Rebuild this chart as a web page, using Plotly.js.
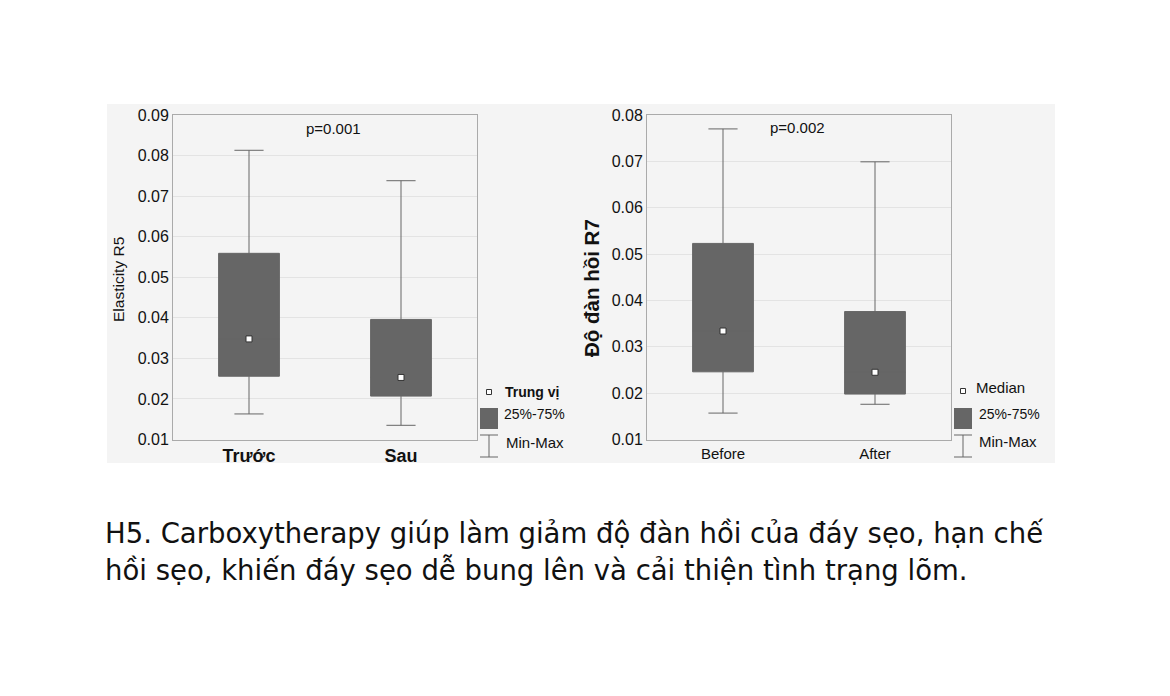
<!DOCTYPE html>
<html>
<head>
<meta charset="utf-8">
<script src="https://cdn.plot.ly/plotly-3.0.1.min.js"></script>
<style>
  body { margin: 0; background: #fff; }
  #plot { width: 1170px; height: 696px; }
</style>
</head>
<body>
<div id="plot"></div>
<script>
// Left chart: Elasticity R5
let groupsL = ["Trước", "Sau"];
let minL = [0.0163, 0.0135];
let q1L = [0.0256, 0.0207];
let medL = [0.0348, 0.0253];
let q3L = [0.0559, 0.0396];
let maxL = [0.0813, 0.0738];

// Right chart: Độ đàn hồi R7
let groupsR = ["Before", "After"];
let minR = [0.0157, 0.0176];
let q1R = [0.0246, 0.0198];
let medR = [0.0334, 0.0245];
let q3R = [0.0523, 0.0376];
let maxR = [0.0770, 0.0699];

let boxGrey = "#666666";
let chartFont = "Liberation Sans, Arial, sans-serif";

function boxTrace(x, lo, q1, med, q3, hi, xa, ya) {
  return {
    type: "box",
    x: x,
    lowerfence: lo,
    q1: q1,
    median: med,
    q3: q3,
    upperfence: hi,
    width: 0.4,
    whiskerwidth: 0.48,
    fillcolor: boxGrey,
    line: { color: boxGrey, width: 1 },
    hoverinfo: "skip",
    showlegend: false,
    xaxis: xa,
    yaxis: ya
  };
}

function medianTrace(x, med, xa, ya) {
  return {
    type: "scatter",
    mode: "markers",
    x: x,
    y: med,
    marker: { symbol: "square", size: 6, color: "#fff", line: { color: "#333", width: 1 } },
    hoverinfo: "skip",
    showlegend: false,
    xaxis: xa,
    yaxis: ya
  };
}

let data = [
  boxTrace(groupsL, minL, q1L, medL, q3L, maxL, "x", "y"),
  medianTrace(groupsL, medL, "x", "y"),
  boxTrace(groupsR, minR, q1R, medR, q3R, maxR, "x2", "y2"),
  medianTrace(groupsR, medR, "x2", "y2")
];

let yDomain = [1 - 439.5 / 696, 1 - 115 / 696];

function xAxis(domain, anchor, bold) {
  return {
    domain: domain,
    anchor: anchor,
    type: "category",
    range: [-0.5, 1.5],
    showgrid: false,
    showline: true,
    mirror: true,
    linecolor: "#aaaaaa",
    linewidth: 1,
    ticks: "",
    fixedrange: true,
    tickfont: { family: chartFont, size: bold ? 18 : 15, color: "#111", weight: bold ? 700 : 400 }
  };
}

function yAxis(anchor, top) {
  return {
    domain: yDomain,
    anchor: anchor,
    range: [0.01, top],
    dtick: 0.01,
    tick0: 0.01,
    tickformat: ".2f",
    showgrid: true,
    gridcolor: "#e3e3e3",
    zeroline: false,
    showline: true,
    mirror: true,
    linecolor: "#aaaaaa",
    linewidth: 1,
    ticks: "",
    fixedrange: true,
    tickfont: { family: chartFont, size: 16, color: "#111" }
  };
}

// helpers for paper coordinates in pixels
function px(v) { return v / 1170; }
function py(v) { return 1 - v / 696; }

let shapes = [
  // light grey panel behind both charts
  { type: "rect", xref: "paper", yref: "paper", x0: px(107), x1: px(1055), y0: py(463), y1: py(104),
    fillcolor: "#f4f4f4", line: { width: 0 }, layer: "below" }
];

function legendShapes(x0, x1) {
  let cx = (x0 + x1) / 2;
  return [
    { type: "rect", xref: "paper", yref: "paper", x0: px(x0), x1: px(x1), y0: py(429), y1: py(408),
      fillcolor: boxGrey, line: { width: 0 } },
    { type: "line", xref: "paper", yref: "paper", x0: px(cx), x1: px(cx), y0: py(435), y1: py(457),
      line: { color: "#666", width: 1 } },
    { type: "line", xref: "paper", yref: "paper", x0: px(x0), x1: px(x1), y0: py(435), y1: py(435),
      line: { color: "#666", width: 1 } },
    { type: "line", xref: "paper", yref: "paper", x0: px(x0), x1: px(x1), y0: py(457), y1: py(457),
      line: { color: "#666", width: 1 } },
    { type: "rect", xref: "paper", yref: "paper", x0: px(cx - 2.5), x1: px(cx + 2.5), y0: py(cx > 700 ? 393.5 : 394.5), y1: py(cx > 700 ? 388.5 : 389.5),
      fillcolor: "#fff", line: { color: "#333", width: 1 } }
  ];
}
shapes = shapes.concat(legendShapes(480, 498), legendShapes(954, 972));

function note(text, x, y, size, opts) {
  return Object.assign({
    xref: "paper", yref: "paper", x: px(x), y: py(y), text: text, showarrow: false,
    xanchor: "left", yanchor: "middle",
    font: { family: chartFont, size: size, color: "#111" }
  }, opts || {});
}

let captionFont = { family: "DejaVu Sans, sans-serif", size: 27.5, color: "#111" };

let annotations = [
  note("p=0.001", 333, 129, 15, { xanchor: "center" }),
  note("p=0.002", 797, 127, 15, { xanchor: "center" }),
  note("Elasticity R5", 118, 280, 15.5, { xanchor: "center", textangle: -90 }),
  note("<b>Độ đàn hồi R7</b>", 592, 288, 20.5, { xanchor: "center", textangle: -90 }),
  note("<b>Trung vị</b>", 503, 392, 14),
  note("25%-75%", 502, 414, 14),
  note("Min-Max", 504, 442, 15),
  note("Median", 974, 387, 15),
  note("25%-75%", 977, 414, 14),
  note("Min-Max", 977, 441, 15),
  { xref: "paper", yref: "paper", x: px(103), y: py(533), text: "H5. Carboxytherapy giúp làm giảm độ đàn hồi của đáy sẹo, hạn chế",
    showarrow: false, xanchor: "left", yanchor: "middle", font: captionFont },
  { xref: "paper", yref: "paper", x: px(103), y: py(570), text: "hồi sẹo, khiến đáy sẹo dễ bung lên và cải thiện tình trạng lõm.",
    showarrow: false, xanchor: "left", yanchor: "middle", font: captionFont }
];

let layout = {
  width: 1170,
  height: 696,
  margin: { l: 0, r: 0, t: 0, b: 0 },
  paper_bgcolor: "#ffffff",
  plot_bgcolor: "#ffffff",
  showlegend: false,
  xaxis: xAxis([px(173), px(477)], "y", true),
  yaxis: yAxis("x", 0.09),
  xaxis2: xAxis([px(647), px(951)], "y2", false),
  yaxis2: yAxis("x2", 0.08),
  shapes: shapes,
  annotations: annotations
};

Plotly.newPlot("plot", data, layout, { displayModeBar: false, staticPlot: true });
</script>
</body>
</html>
